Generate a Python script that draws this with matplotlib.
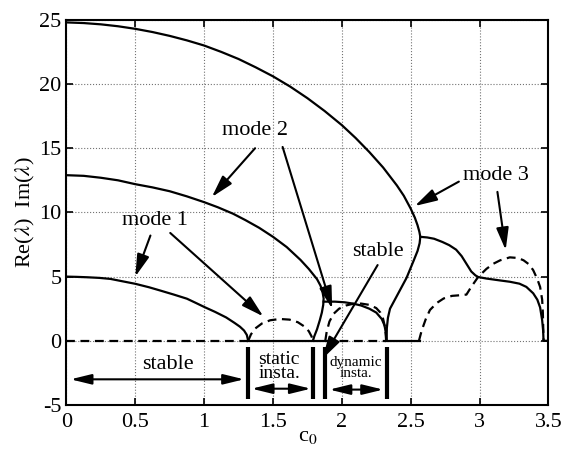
import numpy as np
import matplotlib
matplotlib.use("Agg")
import matplotlib.pyplot as plt

plt.rcParams['font.family'] = ['Liberation Serif', 'DejaVu Serif']
plt.rcParams['mathtext.fontset'] = 'stix'
plt.rcParams['axes.unicode_minus'] = False

# solid curves: Im(lambda)
m3_x = [0, 0.125, 0.25, 0.375, 0.5, 0.625, 0.75, 0.875, 1.0, 1.125, 1.25, 1.375, 1.5, 1.625,
        1.75, 1.875, 2.0, 2.1, 2.2, 2.3, 2.4, 2.45, 2.5, 2.53, 2.55, 2.563, 2.57,
        2.565, 2.55, 2.52, 2.47, 2.42, 2.38, 2.35, 2.335, 2.327, 2.325]
m3_y = [24.8, 24.75, 24.65, 24.5, 24.3, 24.05, 23.75, 23.4, 23.0, 22.5, 21.95, 21.3, 20.6, 19.8,
        18.9, 17.9, 16.8, 15.8, 14.7, 13.5, 12.1, 11.3, 10.3, 9.6, 9.0, 8.5, 8.1,
        7.6, 7.0, 6.2, 4.9, 3.9, 3.1, 2.5, 1.8, 1.0, 0]

m3b_x = [2.57, 2.62, 2.67, 2.73, 2.78, 2.83, 2.87, 2.905, 2.94, 2.97, 2.99, 3.05, 3.15, 3.22,
         3.29, 3.34, 3.39, 3.42, 3.44, 3.455, 3.462, 3.465, 3.5]
m3b_y = [8.1, 8.05, 7.95, 7.7, 7.45, 7.1, 6.6, 6.0, 5.4, 5.1, 4.97, 4.85, 4.7, 4.6,
         4.45, 4.2, 3.7, 3.2, 2.6, 1.6, 0.8, 0, 0]

m2_x = [0, 0.125, 0.25, 0.375, 0.5, 0.625, 0.75, 0.875, 1.0, 1.1, 1.21, 1.3, 1.4, 1.5, 1.6,
        1.7, 1.76, 1.82, 1.845, 1.86, 1.868, 1.865, 1.855, 1.84, 1.82, 1.80, 1.79]
m2_y = [12.9, 12.85, 12.7, 12.5, 12.2, 11.95, 11.65, 11.25, 10.8, 10.4, 9.9, 9.4, 8.8, 8.1, 7.3,
        6.3, 5.6, 4.8, 4.3, 3.8, 3.3, 2.8, 2.2, 1.6, 0.9, 0.35, 0]

m2b_x = [1.868, 1.95, 2.02, 2.08, 2.14, 2.2, 2.25, 2.29, 2.31, 2.32, 2.325]
m2b_y = [3.05, 3.05, 3.0, 2.9, 2.75, 2.5, 2.2, 1.7, 1.2, 0.6, 0]

m1_x = [0, 0.075, 0.15, 0.24, 0.32, 0.4, 0.5, 0.6, 0.68, 0.78, 0.875, 0.94, 1.0, 1.08, 1.16,
        1.22, 1.26, 1.29, 1.31, 1.32]
m1_y = [5.0, 4.98, 4.95, 4.9, 4.82, 4.65, 4.44, 4.17, 3.92, 3.6, 3.28, 2.95, 2.64, 2.25, 1.82,
        1.4, 1.1, 0.8, 0.46, 0]

zero_solid = [(1.32, 1.88), (2.32, 2.57)]
zero_dashed = [(0, 1.32), (1.88, 2.32)]

# dashed curves: Re(lambda)
r1_x = [1.32, 1.34, 1.37, 1.42, 1.48, 1.55, 1.62, 1.68, 1.73, 1.76, 1.78, 1.79]
r1_y = [0, 0.5, 0.95, 1.35, 1.6, 1.7, 1.65, 1.45, 1.1, 0.75, 0.35, 0]

r2_x = [1.88, 1.89, 1.91, 1.94, 1.98, 2.03, 2.08, 2.14, 2.2, 2.25, 2.28, 2.3, 2.315, 2.322]
r2_y = [0, 0.7, 1.5, 2.1, 2.5, 2.75, 2.88, 2.9, 2.8, 2.55, 2.2, 1.7, 1.0, 0]

r3_x = [2.56, 2.58, 2.61, 2.64, 2.69, 2.74, 2.8, 2.86, 2.905, 2.94, 2.99, 3.05, 3.1, 3.15,
        3.22, 3.28, 3.32, 3.36, 3.39, 3.42, 3.44, 3.455, 3.46, 3.465]
r3_y = [0, 0.8, 1.7, 2.4, 2.95, 3.3, 3.5, 3.55, 3.6, 4.2, 4.97, 5.6, 6.0, 6.27,
        6.5, 6.45, 6.27, 5.95, 5.5, 4.8, 4.2, 3.2, 2.2, 0]

fig = plt.figure(figsize=(5.63, 4.51), dpi=100)
ax = fig.add_axes([0.118, 0.102, 0.856, 0.854])

lw = 1.6
for xs, ys in [(m3_x, m3_y), (m3b_x, m3b_y), (m2_x, m2_y), (m2b_x, m2b_y), (m1_x, m1_y)]:
    ax.plot(xs, ys, 'k-', lw=lw)
for a, b in zero_solid:
    ax.plot([a, b], [0, 0], 'k-', lw=lw)
for a, b in zero_dashed:
    ax.plot([a, b], [0, 0], 'k--', lw=lw, dashes=(4, 2.5))
for xs, ys in [(r1_x, r1_y), (r2_x, r2_y), (r3_x, r3_y)]:
    ax.plot(xs, ys, 'k--', lw=lw, dashes=(4, 2.5))

ax.set_xlim(0, 3.5)
ax.set_ylim(-5, 25)
ax.set_xticks(np.arange(0, 3.51, 0.5))
ax.set_xticklabels(['0', '0.5', '1', '1.5', '2', '2.5', '3', '3.5'])
ax.set_yticks(range(-5, 26, 5))
ax.grid(True, ls=':', color='0.45', lw=0.8)
ax.tick_params(direction='in', top=True, right=True, length=5, width=1.2, labelsize=16)
ax.tick_params(axis='x', pad=6)
for s in ax.spines.values():
    s.set_linewidth(1.5)
ax.set_xlabel('c$_0$', fontsize=16, labelpad=-4)
ax.set_ylabel(r'Re($\lambda$)  Im($\lambda$)', fontsize=16, labelpad=2)

arr = dict(arrowstyle='-|>,head_length=0.9,head_width=0.25', color='k', lw=1.5,
           shrinkA=0, shrinkB=0, mutation_scale=15)
dbl = dict(arrowstyle='<|-|>,head_length=0.9,head_width=0.22', color='k', lw=1.5,
           shrinkA=0, shrinkB=0, mutation_scale=14)

ax.text(1.37, 16.4, 'mode 2', fontsize=16, ha='center', va='center')
ax.annotate('', xy=(1.056, 11.2), xytext=(1.37, 15.0), arrowprops=arr)
ax.annotate('', xy=(1.93, 2.5), xytext=(1.57, 15.1), arrowprops=arr)

ax.text(0.645, 9.4, 'mode 1', fontsize=16, ha='center', va='center')
ax.annotate('', xy=(0.5, 5.0), xytext=(0.61, 8.2), arrowprops=arr)
ax.annotate('', xy=(1.43, 1.9), xytext=(0.754, 8.4), arrowprops=arr)

ax.text(3.12, 12.9, 'mode 3', fontsize=16, ha='center', va='center')
ax.annotate('', xy=(2.53, 10.5), xytext=(2.85, 12.4), arrowprops=arr)
ax.annotate('', xy=(3.19, 7.07), xytext=(3.13, 11.6), arrowprops=arr)

ax.text(2.26, 6.95, 'stable', fontsize=16, ha='center', va='center')
ax.annotate('', xy=(1.86, -1.4), xytext=(2.26, 5.9), arrowprops=arr)

ax.text(0.74, -1.83, 'stable', fontsize=16, ha='center', va='center')
ax.annotate('', xy=(1.29, -3.0), xytext=(0.03, -3.0), arrowprops=dbl)

for xb in [1.32, 1.79, 1.88, 2.325]:
    ax.plot([xb, xb], [-0.45, -4.5], 'k-', lw=3, solid_capstyle='butt')

ax.text(1.545, -2.0, 'static\ninsta.', fontsize=14, ha='center', va='center', linespacing=0.8)
ax.annotate('', xy=(1.775, -3.73), xytext=(1.345, -3.73), arrowprops=dbl)

ax.text(2.1, -2.1, 'dynamic\ninsta.', fontsize=11, ha='center', va='center', linespacing=0.8)
ax.annotate('', xy=(2.3, -3.8), xytext=(1.91, -3.8), arrowprops=dbl)

fig.savefig('out.png', dpi=100)
